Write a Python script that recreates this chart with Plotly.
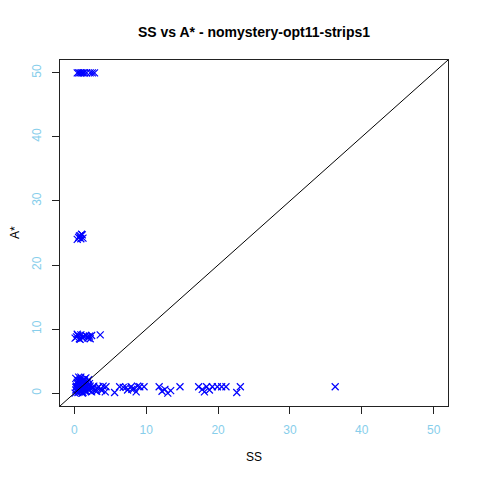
import plotly.graph_objects as go

# SS values and A* values
ss_top = [0.4, 0.6, 0.8, 1.0, 1.2, 1.4, 1.7, 2.2, 2.5, 2.8]
as_top = [50, 50, 50, 50, 50, 50, 50, 50, 50, 50]

ss_24 = [0.4, 0.6, 0.8, 1.0, 1.2, 0.7, 0.9, 1.1]
as_24 = [24.0, 24.3, 24.6, 24.8, 24.2, 24.5, 24.1, 24.7]

ss_9 = [0.1, 0.3, 0.5, 0.7, 0.9, 1.1, 1.3, 1.6, 1.9, 2.1, 2.4, 0.4, 0.8, 1.2, 1.8, 2.2, 3.6]
as_9 = [8.6, 8.8, 9.0, 8.5, 9.1, 8.7, 8.9, 9.0, 8.6, 8.9, 9.0, 9.2, 8.4, 8.6, 8.8, 8.5, 9.1]

ss_low = [0.1, 0.2, 0.3, 0.4, 0.5, 0.6, 0.7, 0.8, 0.9, 1.0,
          1.1, 1.2, 1.3, 1.4, 1.5, 1.6, 1.8, 2.0, 2.2, 2.4,
          0.2, 0.4, 0.6, 0.8, 1.0, 1.2, 1.4, 1.6, 1.9, 2.3,
          0.3, 0.5, 0.7, 0.9, 1.1, 1.3, 1.7, 2.1, 2.6, 2.9,
          0.2, 0.6, 1.0, 1.5, 2.0, 0.4, 0.9, 1.4, 1.8, 2.7,
          3.1, 3.4, 3.7, 4.0, 4.3, 3.2, 3.8, 4.4, 5.6, 6.3,
          6.8, 7.4, 7.9, 8.3, 8.6, 9.1, 9.7, 8.0, 8.8, 7.2]
as_low = [0.0, 0.5, 1.0, 1.5, 2.0, 2.5, 0.2, 0.8, 1.2, 1.8,
          0.0, 0.6, 1.4, 2.2, 0.3, 1.0, 1.6, 0.5, 1.1, 0.2,
          2.3, 1.7, 0.4, 2.1, 0.9, 0.1, 1.9, 2.4, 1.3, 0.7,
          1.1, 0.1, 1.6, 0.6, 2.0, 0.9, 0.3, 1.5, 0.8, 0.4,
          0.9, 1.9, 0.3, 1.2, 2.1, 0.6, 2.5, 0.5, 1.0, 1.1,
          0.3, 1.0, 0.6, 1.1, 0.2, 0.8, 0.4, 1.0, 0.1, 1.0,
          0.9, 0.5, 1.0, 0.7, 0.2, 1.0, 1.0, 0.6, 1.1, 0.9]

ss_mid = [11.8, 12.2, 12.6, 13.0, 13.4, 14.7, 17.3, 17.8, 18.1, 18.4,
          18.8, 19.2, 19.9, 20.5, 21.1, 22.6, 23.1, 36.3]
as_mid = [1.0, 0.3, 0.6, 0.0, 0.4, 1.0, 1.0, 0.6, 0.2, 1.0,
          0.5, 1.0, 1.0, 1.0, 1.0, 0.1, 1.0, 1.0]

xs = ss_top + ss_24 + ss_9 + ss_low + ss_mid
ys = as_top + as_24 + as_9 + as_low + as_mid

fig = go.Figure()
fig.add_trace(go.Scatter(
    x=xs, y=ys, mode="markers",
    marker=dict(symbol="x-thin-open", size=7, color="#0000ff",
                line=dict(color="#0000ff", width=1.2)),
    showlegend=False))
fig.add_trace(go.Scatter(
    x=[-2, 52], y=[-2, 52], mode="lines",
    line=dict(color="black", width=1), showlegend=False))

axis = dict(range=[-2, 52], tickvals=[0, 10, 20, 30, 40, 50],
            showline=True, mirror=True, linecolor="#222", linewidth=1,
            ticks="outside", ticklen=7, tickcolor="#222",
            ticklabelstandoff=6, automargin=False,
            tickfont=dict(color="#87ceeb", size=12), showgrid=False,
            zeroline=False)

fig.update_layout(
    width=480, height=480,
    margin=dict(l=52, r=40, t=52, b=82),
    paper_bgcolor="white", plot_bgcolor="white",
    font=dict(family="Liberation Sans, Arial", color="black", size=12),
    title=dict(text="<b>SS vs A* - nomystery-opt11-strips1</b>",
               x=0.5, xref="paper", y=0.95, yref="container",
               yanchor="middle", font=dict(size=14)),
    xaxis=axis,
    yaxis=dict(axis, tickangle=-90),
    annotations=[
        dict(text="SS", xref="paper", yref="paper", x=0.5, y=0,
             yshift=-51, xanchor="center", yanchor="middle",
             showarrow=False, font=dict(size=12)),
        dict(text="A*", xref="paper", yref="paper", x=0, y=0.5,
             xshift=-45, textangle=-90, xanchor="center",
             yanchor="middle", showarrow=False, font=dict(size=12)),
    ],
)

fig.write_html("out.html")
